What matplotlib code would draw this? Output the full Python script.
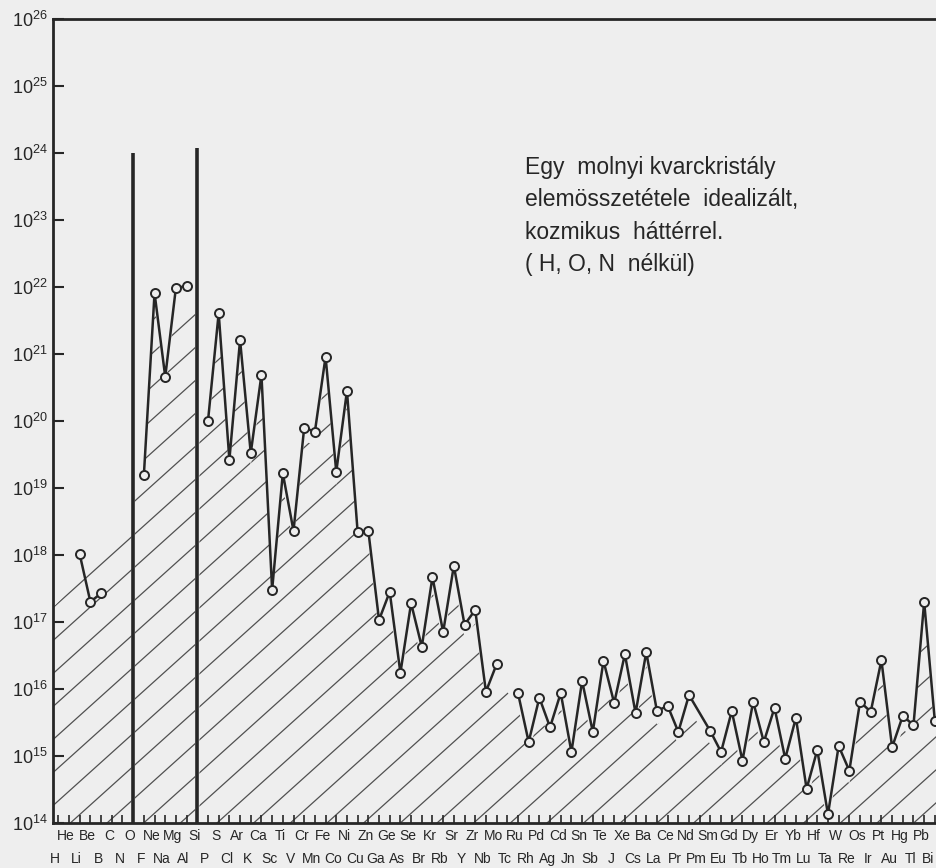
import numpy as np
import matplotlib
matplotlib.use("Agg")
import matplotlib.pyplot as plt
import matplotlib.transforms as mtransforms
from matplotlib.collections import LineCollection
from matplotlib.patches import PathPatch
from matplotlib.path import Path

plt.rcParams['font.family'] = ['Liberation Sans', 'DejaVu Sans']

symbols = ['H', 'He', 'Li', 'Be', 'B', 'C', 'N', 'O', 'F', 'Ne',
           'Na', 'Mg', 'Al', 'Si', 'P', 'S', 'Cl', 'Ar', 'K', 'Ca',
           'Sc', 'Ti', 'V', 'Cr', 'Mn', 'Fe', 'Co', 'Ni', 'Cu', 'Zn',
           'Ga', 'Ge', 'As', 'Se', 'Br', 'Kr', 'Rb', 'Sr', 'Y', 'Zr',
           'Nb', 'Mo', 'Tc', 'Ru', 'Rh', 'Pd', 'Ag', 'Cd', 'Jn', 'Sn',
           'Sb', 'Te', 'J', 'Xe', 'Cs', 'Ba', 'La', 'Ce', 'Pr', 'Nd',
           'Pm', 'Sm', 'Eu', 'Gd', 'Tb', 'Dy', 'Ho', 'Er', 'Tm', 'Yb',
           'Lu', 'Hf', 'Ta', 'W', 'Re', 'Os', 'Ir', 'Pt', 'Au', 'Hg',
           'Tl', 'Pb', 'Bi']

# log10 of atom counts per mole of quartz crystal
libeb_z = [3, 4, 5]
libeb_log = [18.01, 17.30, 17.43]

fal_z = [9, 10, 11, 12, 13]
fal_log = [19.19, 21.91, 20.66, 21.99, 22.01]

bar_z = [8, 14]            # O and Si, drawn as plain bars
bar_log = [24.0, 24.07]

pmo_z = list(range(15, 43))   # P .. Mo
pmo_log = [20.00, 21.61, 19.42, 21.21, 19.52, 20.69, 17.48, 19.22, 18.36, 19.90,
           19.84, 20.96, 19.24, 20.45, 18.34, 18.36, 17.03, 17.45, 16.24, 17.28,
           16.63, 17.67, 16.85, 17.84, 16.96, 17.18, 15.96, 16.37]

rubi_z = list(range(44, 61)) + list(range(62, 84))   # Ru .. Bi, no Tc, no Pm
rubi_log = [15.94, 15.21, 15.87, 15.43, 15.94, 15.06, 16.12, 15.36, 16.42, 15.79,
            16.52, 15.64, 16.55, 15.67, 15.75, 15.36, 15.91,
            15.37, 15.06, 15.67, 14.93, 15.81, 15.21, 15.72, 14.96, 15.57,
            14.51, 15.09, 14.13, 15.15, 14.78, 15.81, 15.66, 16.43, 15.13,
            15.60, 15.46, 17.30, 15.52]

# hatched background under H .. O
bg_z = [0.5, 7.8]
bg_log = [17.22, 18.37]

bg = '#eeeeee'
ink = '#262626'
YMIN, YMAX = 1e14, 1e26
XMIN, XMAX = 0.5, 83.2

fig = plt.figure(figsize=(9.37, 8.68), dpi=100, facecolor=bg)
ax = fig.add_axes([53 / 937, 45 / 868, 884 / 937, 804 / 868])
ax.set_facecolor(bg)
ax.set_yscale('log')
ax.set_xlim(XMIN, XMAX)
ax.set_ylim(YMIN, YMAX)


def section(xs, logs, left, right, gap):
    v = [(left, YMIN), (left, 10 ** (logs[0] - gap))]
    v += [(x, 10 ** (l - gap)) for x, l in zip(xs, logs)]
    v += [(right, 10 ** (logs[-1] - gap)), (right, YMIN), (left, YMIN)]
    codes = [Path.MOVETO] + [Path.LINETO] * (len(v) - 2) + [Path.CLOSEPOLY]
    return v, codes


gap = 0.2
verts, codes = [], []
for xs, logs, l, r, g in [
        (bg_z, bg_log, XMIN, 7.85, 0.0),
        (fal_z, fal_log, 8.15, 13.8, gap),
        (pmo_z + rubi_z, pmo_log + rubi_log, 14.2, XMAX, gap)]:
    v, c = section(xs, logs, l, r, g)
    verts += v
    codes += c
clip = PathPatch(Path(verts, codes), transform=ax.transData)

# sparse diagonal hatching, laid out in inches
W, H = fig.get_size_inches()
slope = 0.9
segs = [[(0, c), (W, c + slope * W)] for c in np.arange(-slope * W, H, 0.33)]
lc = LineCollection(segs, colors='#505050', linewidths=0.9,
                    transform=fig.dpi_scale_trans, zorder=1)
lc.set_clip_path(clip)
ax.add_collection(lc, autolim=False)

# O and Si bars
ax.vlines(bar_z, YMIN, 10 ** np.array(bar_log), color=ink, lw=2.6, zorder=3)

for xs, logs in [(libeb_z, libeb_log), (fal_z, fal_log),
                 (pmo_z, pmo_log), (rubi_z, rubi_log)]:
    ax.plot(xs, 10 ** np.array(logs), color=ink, lw=1.8, marker='o', ms=6.5,
            mfc=bg, mec=ink, mew=1.4, zorder=4, clip_on=False)

ax.set_xlim(XMIN, XMAX)
ax.set_ylim(YMIN, YMAX)

for s in ['top', 'left', 'bottom']:
    ax.spines[s].set_linewidth(2.0)
    ax.spines[s].set_color(ink)
ax.spines['right'].set_visible(False)

# even elements on the upper label row (major ticks), odd ones below (minor)
zs = np.arange(1, 84)
ax.set_xticks(zs[1::2], symbols[1::2])
ax.set_xticks(zs[0::2], symbols[0::2], minor=True)
ax.tick_params(axis='x', which='both', direction='in', length=6, width=1.2,
               color=ink, labelsize=10, labelcolor=ink)
ax.tick_params(axis='x', which='major', pad=4)
ax.tick_params(axis='x', which='minor', pad=21)
shift = mtransforms.ScaledTranslation(-3 / 100, 0, fig.dpi_scale_trans)
for lbl in ax.get_xticklabels() + ax.get_xticklabels(minor=True):
    lbl.set_transform(lbl.get_transform() + shift)
last = ax.get_xticklabels(minor=True)[-1]   # Bi, keep it inside the page
last.set_transform(last.get_transform()
                   + mtransforms.ScaledTranslation(-4 / 100, 0, fig.dpi_scale_trans))

ax.set_yticks([10.0 ** k for k in range(14, 27)])
ax.set_yticks([], minor=True)
ax.tick_params(axis='y', direction='in', length=8, width=1.5, color=ink,
               pad=4, labelsize=13, labelcolor=ink)

fig.text(525 / 937, 1 - 156 / 868,
         'Egy  molnyi kvarckristály\nelemösszetétele  idealizált,\n'
         'kozmikus  háttérrel.\n( H, O, N  nélkül)',
         fontsize=16.5, color=ink, va='top', ha='left', linespacing=1.52)

fig.savefig('out.png', dpi=100, facecolor=bg)
